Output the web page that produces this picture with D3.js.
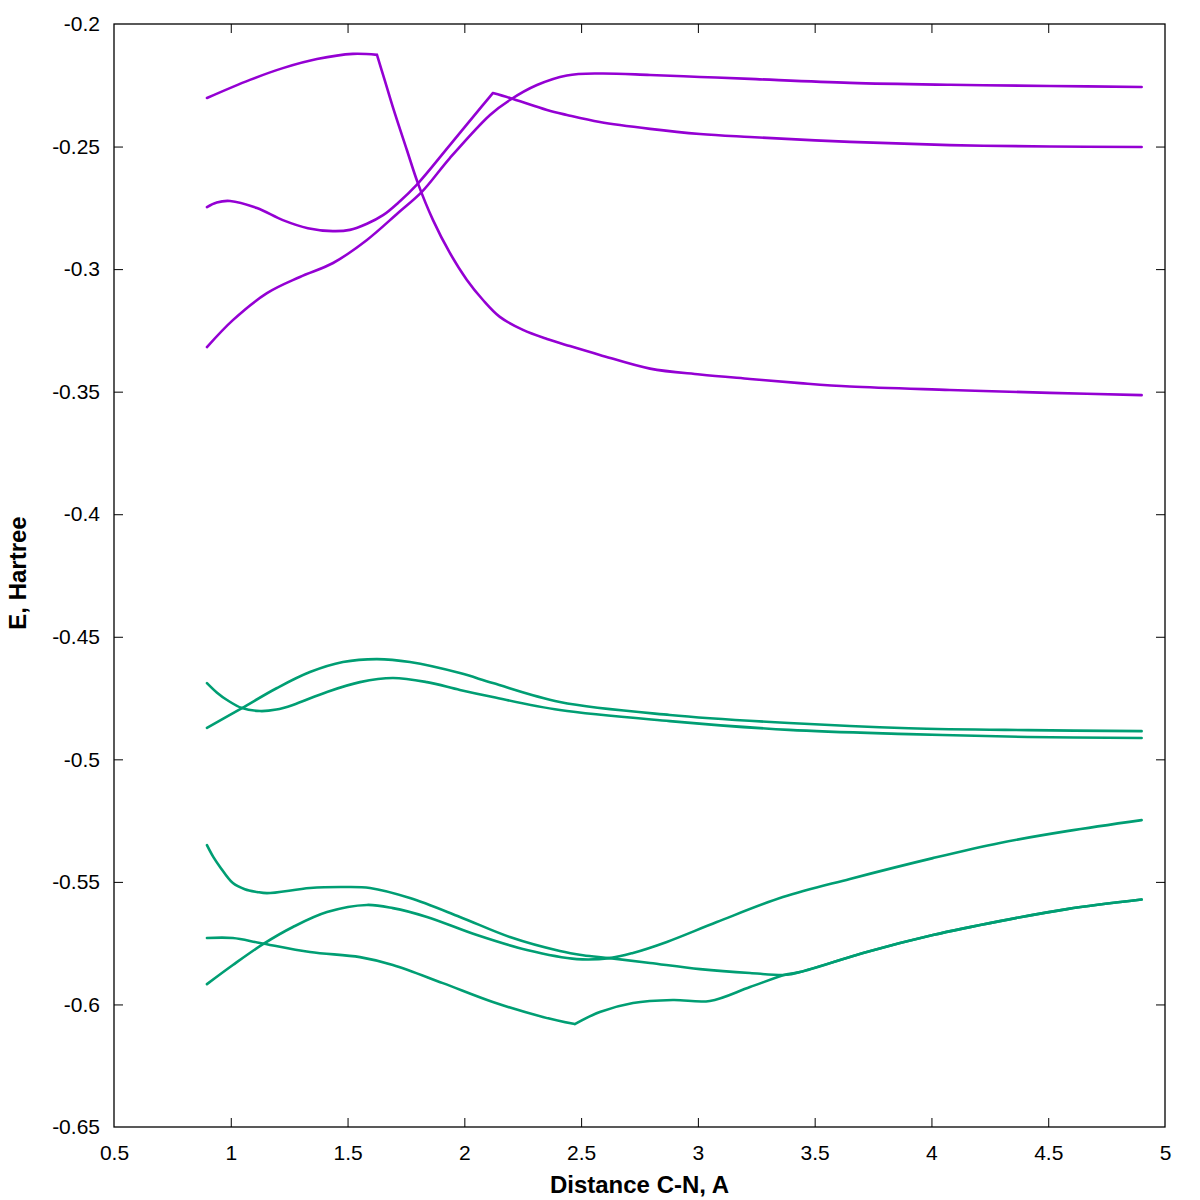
<!DOCTYPE html>
<html>
<head>
<meta charset="utf-8">
<script src="https://cdn.jsdelivr.net/npm/d3@7"></script>
<style>
  html, body { margin: 0; padding: 0; background: #fff; }
  svg { display: block; }
  text { font-family: "Liberation Sans", Arial, sans-serif; }
</style>
</head>
<body>
<div id="chart"></div>
<script>
// ---- data ----
const xTicks = [0.5, 1, 1.5, 2, 2.5, 3, 3.5, 4, 4.5, 5];
const yTicks = [-0.65, -0.6, -0.55, -0.5, -0.45, -0.4, -0.35, -0.3, -0.25, -0.2];
const xTitle = "Distance C-N, A";
const yTitle = "E, Hartree";

const purpleA = [[0.898,-0.2302],[1.082,-0.2228],[1.223,-0.2180],[1.369,-0.2143],[1.523,-0.2122],[1.626,-0.2126],[1.66,-0.2232],[1.694,-0.2339],[1.754,-0.2514],[1.801,-0.2649],[1.866,-0.2800],[1.938,-0.2934],[2.011,-0.3044],[2.080,-0.3126],[2.152,-0.3195],[2.251,-0.3248],[2.354,-0.3285],[2.452,-0.3314],[2.580,-0.3350],[2.795,-0.3406],[3.009,-0.3430],[3.223,-0.3448],[3.437,-0.3465],[3.651,-0.3479],[4.079,-0.3493],[4.507,-0.3505],[4.9,-0.3514]];
const purpleB = [[0.898,-0.2747],[0.94,-0.2728],[0.997,-0.2722],[1.112,-0.2751],[1.223,-0.2800],[1.330,-0.2833],[1.437,-0.2845],[1.510,-0.2840],[1.583,-0.2815],[1.652,-0.2780],[1.716,-0.2730],[1.797,-0.2655],[1.938,-0.2494],[2.08,-0.2330],[2.122,-0.2282],[2.195,-0.2302],[2.354,-0.2351],[2.439,-0.2371],[2.580,-0.2400],[2.795,-0.2428],[3.009,-0.2449],[3.223,-0.2461],[3.651,-0.2481],[4.079,-0.2494],[4.507,-0.2500],[4.9,-0.2502]];
const purpleC = [[0.898,-0.3318],[1.009,-0.3208],[1.155,-0.3098],[1.296,-0.3032],[1.438,-0.2975],[1.583,-0.2881],[1.716,-0.2771],[1.818,-0.2685],[1.938,-0.2547],[2.110,-0.2371],[2.195,-0.2310],[2.311,-0.2249],[2.439,-0.2210],[2.580,-0.2202],[2.795,-0.2208],[3.009,-0.2216],[3.223,-0.2224],[3.651,-0.2240],[4.079,-0.2248],[4.507,-0.2253],[4.9,-0.2257]];

const greenA = [[0.898,-0.4689],[0.940,-0.4727],[0.984,-0.4758],[1.048,-0.4791],[1.125,-0.4803],[1.195,-0.4797],[1.266,-0.4778],[1.412,-0.4725],[1.553,-0.4685],[1.694,-0.4668],[1.840,-0.4685],[1.981,-0.4717],[2.122,-0.4746],[2.409,-0.4799],[2.880,-0.4844],[3.390,-0.4880],[3.903,-0.4897],[4.413,-0.4909],[4.9,-0.4913]];
const greenB = [[0.898,-0.4872],[1.048,-0.4791],[1.198,-0.4709],[1.339,-0.4644],[1.480,-0.4603],[1.626,-0.4591],[1.767,-0.4603],[1.981,-0.4648],[2.122,-0.4689],[2.409,-0.4766],[2.880,-0.4819],[3.390,-0.4852],[3.903,-0.4873],[4.413,-0.4881],[4.9,-0.4885]];
const greenC = [[0.898,-0.5350],[0.925,-0.5398],[0.954,-0.5439],[1.009,-0.5505],[1.060,-0.5530],[1.112,-0.5541],[1.155,-0.5546],[1.339,-0.5525],[1.480,-0.5521],[1.596,-0.5525],[1.767,-0.5566],[1.981,-0.5643],[2.195,-0.5725],[2.409,-0.5782],[2.508,-0.5799],[2.623,-0.5811],[2.795,-0.5831],[3.009,-0.5856],[3.223,-0.5872],[3.381,-0.5879],[3.437,-0.5868],[3.723,-0.5786],[4.006,-0.5717],[4.293,-0.5660],[4.580,-0.5611],[4.9,-0.5572]];
const greenD = [[0.898,-0.5729],[1.009,-0.5729],[1.125,-0.5749],[1.339,-0.5786],[1.553,-0.5807],[1.694,-0.5839],[1.908,-0.5913],[2.122,-0.5990],[2.336,-0.6051],[2.473,-0.6080],[2.580,-0.6031],[2.722,-0.5994],[2.893,-0.5982],[3.051,-0.5986],[3.223,-0.5929],[3.381,-0.5877],[3.437,-0.5868],[3.723,-0.5786],[4.006,-0.5717],[4.293,-0.5660],[4.580,-0.5611],[4.9,-0.5572]];
const greenE = [[0.898,-0.5917],[1.009,-0.5839],[1.138,-0.5754],[1.266,-0.5684],[1.412,-0.5623],[1.583,-0.5594],[1.694,-0.5607],[1.840,-0.5643],[2.054,-0.5717],[2.268,-0.5778],[2.482,-0.5815],[2.623,-0.5811],[2.722,-0.5790],[2.867,-0.5745],[3.081,-0.5664],[3.364,-0.5562],[3.651,-0.5488],[4.006,-0.5403],[4.293,-0.5341],[4.580,-0.5293],[4.9,-0.5248]];

const purpleSeries = [purpleA, purpleB, purpleC];
const greenSeries = [greenA, greenB, greenC, greenD, greenE];

// ---- layout ----
const W = 1200, H = 1200;
const m = { left: 114, right: 35, top: 24, bottom: 73 };
const PURPLE = "#9400d3", GREEN = "#009e73";

const svg = d3.select("#chart").append("svg")
  .attr("width", W).attr("height", H);

const x = d3.scaleLinear().domain([0.5, 5]).range([m.left, W - m.right]);
const y = d3.scaleLinear().domain([-0.65, -0.2]).range([H - m.bottom, m.top]);

const tickLen = 9;
const fmt = d => String(d);

const gx = svg.append("g").attr("transform", `translate(0,${H - m.bottom})`)
  .call(d3.axisBottom(x).tickValues(xTicks).tickFormat(fmt).tickSizeInner(-tickLen).tickSizeOuter(0).tickPadding(18));
const gxt = svg.append("g").attr("transform", `translate(0,${m.top})`)
  .call(d3.axisTop(x).tickValues(xTicks).tickFormat("").tickSizeInner(-tickLen).tickSizeOuter(0));
const gy = svg.append("g").attr("transform", `translate(${m.left},0)`)
  .call(d3.axisLeft(y).tickValues(yTicks).tickFormat(fmt).tickSizeInner(-tickLen).tickSizeOuter(0).tickPadding(14));
const gyr = svg.append("g").attr("transform", `translate(${W - m.right},0)`)
  .call(d3.axisRight(y).tickValues(yTicks).tickFormat("").tickSizeInner(-tickLen).tickSizeOuter(0));

[gx, gxt, gy, gyr].forEach(g => {
  g.select(".domain").remove();
  g.selectAll(".tick line").attr("stroke", "#000").attr("stroke-width", 1);
  g.selectAll(".tick text").attr("font-family", "Liberation Sans, Arial, sans-serif")
    .attr("font-size", 21).attr("fill", "#000");
});
gx.selectAll(".tick").filter(d => d === 0.5 || d === 5).select("line").remove();
gxt.selectAll(".tick").filter(d => d === 0.5 || d === 5).select("line").remove();
gy.selectAll(".tick").filter(d => d === -0.65 || d === -0.2).select("line").remove();
gyr.selectAll(".tick").filter(d => d === -0.65 || d === -0.2).select("line").remove();

svg.append("rect")
  .attr("x", m.left).attr("y", m.top)
  .attr("width", W - m.left - m.right).attr("height", H - m.top - m.bottom)
  .attr("fill", "none").attr("stroke", "#000").attr("stroke-width", 1.3);

// split a series at sharp kinks (pixel-space angle), draw each piece smoothly
function pieces(s) {
  const out = [];
  let cur = [s[0]];
  for (let i = 1; i < s.length; i++) {
    cur.push(s[i]);
    if (i < s.length - 1) {
      const a1 = Math.atan2(y(s[i][1]) - y(s[i-1][1]), x(s[i][0]) - x(s[i-1][0]));
      const a2 = Math.atan2(y(s[i+1][1]) - y(s[i][1]), x(s[i+1][0]) - x(s[i][0]));
      if (Math.abs(a2 - a1) > 30 * Math.PI / 180) { out.push(cur); cur = [s[i]]; }
    }
  }
  out.push(cur);
  return out;
}
const line = d3.line().x(d => x(d[0])).y(d => y(d[1])).curve(d3.curveCatmullRom.alpha(0.5));
const plot = svg.append("g");
function draw(series, color) {
  series.forEach(s => {
    const d = pieces(s).map(p => line(p)).join("");
    plot.append("path").attr("d", d)
      .attr("fill", "none").attr("stroke", color).attr("stroke-width", 2.6)
      .attr("stroke-linejoin", "round").attr("stroke-linecap", "round");
  });
}
draw(purpleSeries, PURPLE);
draw(greenSeries, GREEN);

svg.append("text")
  .attr("x", (m.left + W - m.right) / 2).attr("y", 1193)
  .attr("text-anchor", "middle").attr("font-weight", "bold").attr("font-size", 24)
  .text(xTitle);
svg.append("text")
  .attr("transform", `translate(26,573) rotate(-90)`)
  .attr("text-anchor", "middle").attr("font-weight", "bold").attr("font-size", 24)
  .text(yTitle);
</script>
</body>
</html>
